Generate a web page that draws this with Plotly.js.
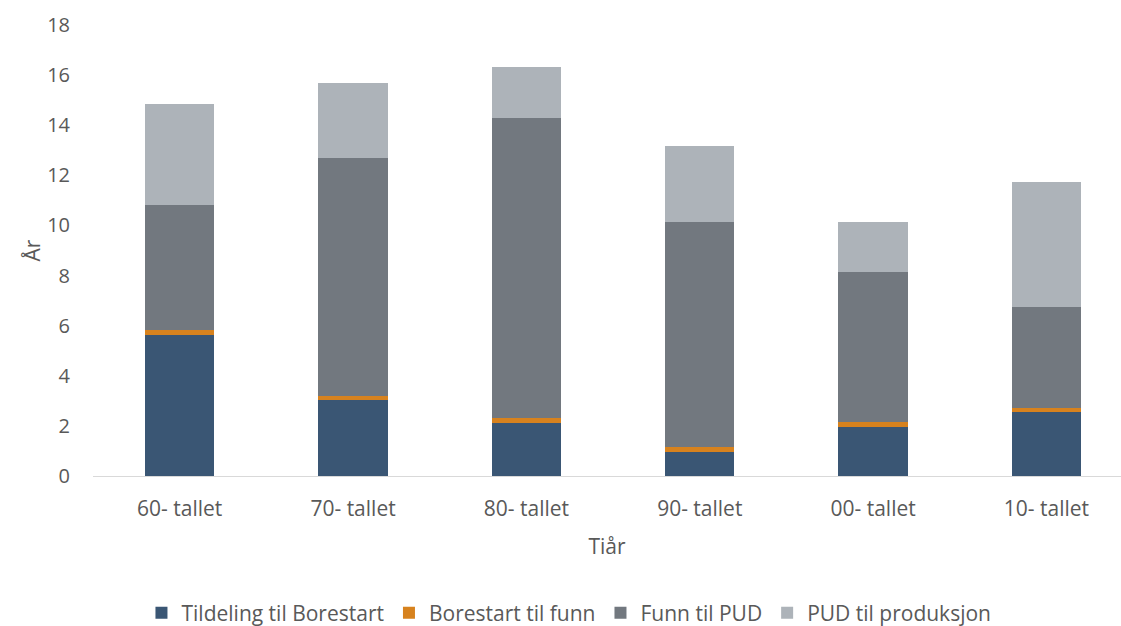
<!DOCTYPE html>
<html>
<head>
<meta charset="utf-8">
<script src="https://cdn.plot.ly/plotly-3.0.1.min.js"></script>
<style>html,body{margin:0;padding:0;background:#fff;}#chart{width:1121px;height:626px;}</style>
</head>
<body>
<div id="chart"></div>
<script>
const categories = ["60- tallet", "70- tallet", "80- tallet", "90- tallet", "00- tallet", "10- tallet"];
const seriesNames = ["Tildeling til Borestart", "Borestart til funn", "Funn til PUD", "PUD til produksjon"];
const tildelingTilBorestart = [5.63, 3.02, 2.13, 0.97, 1.97, 2.55];
const borestartTilFunn = [0.2, 0.17, 0.18, 0.19, 0.18, 0.18];
const funnTilPUD = [5.0, 9.49, 11.98, 8.99, 5.99, 4.0];
const pudTilProduksjon = [4.0, 3.01, 2.02, 3.01, 2.01, 5.0];
const colors = ["#3A5674", "#D7821E", "#72787F", "#ADB3B9"];

const seriesValues = [tildelingTilBorestart, borestartTilFunn, funnTilPUD, pudTilProduksjon];
const font = "'Open Sans', sans-serif";
const traces = seriesValues.map((vals, i) => ({
  type: "bar",
  x: categories,
  y: vals,
  name: seriesNames[i],
  marker: {color: colors[i], line: {width: 0}},
  hoverinfo: "skip"
}));

const layout = {
  width: 1121,
  height: 626,
  barmode: "stack",
  bargap: 0.6,
  paper_bgcolor: "#ffffff",
  plot_bgcolor: "#ffffff",
  margin: {l: 93, r: 0, t: 25, b: 150, autoexpand: false},
  font: {family: font, size: 20, color: "#595959"},
  showlegend: true,
  xaxis: {
    type: "category",
    range: [-0.5, 5.43],
    showgrid: false,
    zeroline: false,
    showline: true,
    linecolor: "#D9D9D9",
    linewidth: 1,
    ticks: "",
    ticklabelstandoff: 14,
    tickfont: {family: font, size: 21, color: "#595959"},
    title: {text: "Tiår", font: {family: font, size: 21, color: "#595959"}, standoff: 18}
  },
  yaxis: {
    range: [0, 18],
    dtick: 2,
    tick0: 0,
    showgrid: false,
    zeroline: false,
    showline: false,
    ticks: "",
    ticklabelstandoff: 22,
    tickfont: {family: font, size: 20, color: "#595959"},
    title: {text: "År", font: {family: font, size: 21, color: "#595959"}, standoff: 0}
  },
  legend: {
    orientation: "h",
    x: 0.463,
    xanchor: "center",
    y: -0.304,
    yanchor: "middle",
    font: {family: font, size: 21, color: "#595959"},
    traceorder: "normal",
    itemwidth: 30
  }
};

Plotly.newPlot("chart", traces, layout, {staticPlot: true, displayModeBar: false});
</script>
</body>
</html>
